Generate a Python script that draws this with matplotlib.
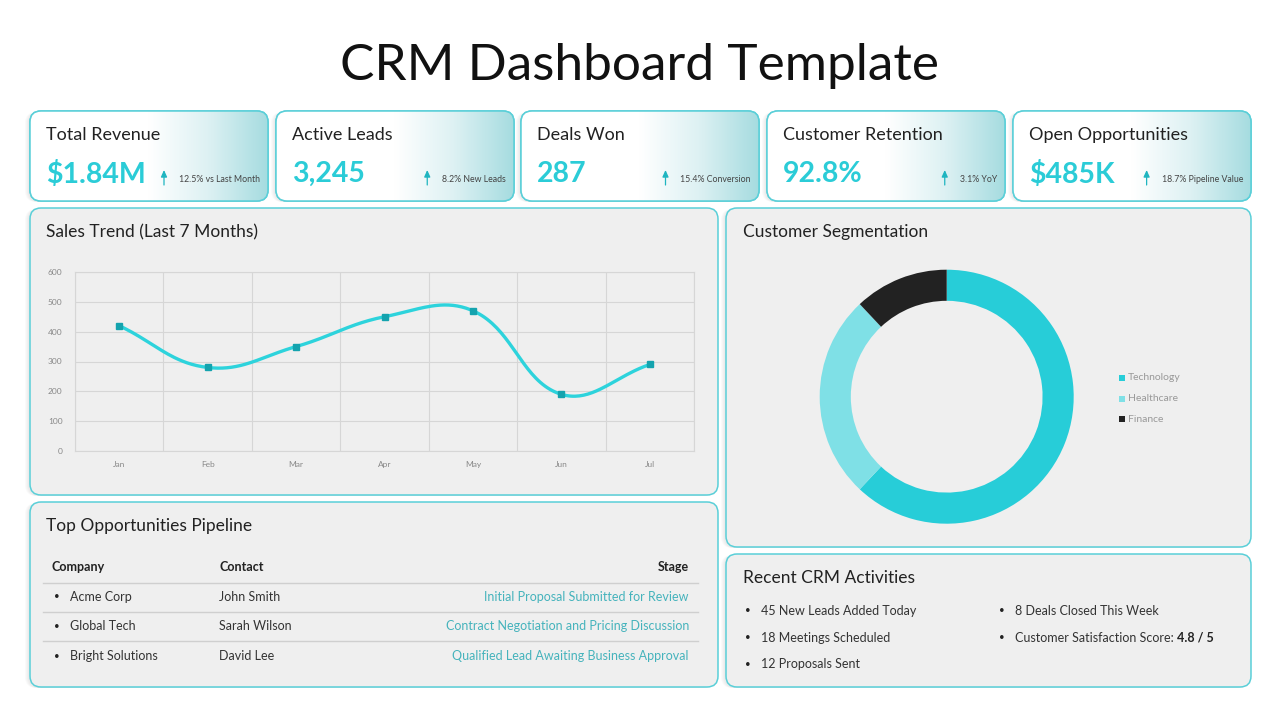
import numpy as np
import matplotlib
matplotlib.use('Agg')
import matplotlib.pyplot as plt
from matplotlib.patches import FancyBboxPatch, Rectangle
from matplotlib.colors import LinearSegmentedColormap

plt.rcParams['font.family'] = ['Lato', 'DejaVu Sans']

# ---- data ----
kpi_titles = ['Total Revenue', 'Active Leads', 'Deals Won', 'Customer Retention', 'Open Opportunities']
kpi_values = ['$1.84M', '3,245', '287', '92.8%', '$485K']
kpi_notes = ['12.5% vs Last Month', '8.2% New Leads', '15.4% Conversion', '3.1% YoY', '18.7% Pipeline Value']

months = ['Jan', 'Feb', 'Mar', 'Apr', 'May', 'Jun', 'Jul']
sales = [420, 280, 350, 450, 470, 190, 290]

segments = ['Technology', 'Healthcare', 'Finance']
segment_share = [62, 26, 12]
segment_colors = ['#27CDD8', '#7FE0E6', '#222222']

table_cols = ['Company', 'Contact', 'Stage']
companies = ['Acme Corp', 'Global Tech', 'Bright Solutions']
contacts = ['John Smith', 'Sarah Wilson', 'David Lee']
stages = ['Initial Proposal Submitted for Review',
          'Contract Negotiation and Pricing Discussion',
          'Qualified Lead Awaiting Business Approval']

activities_left = ['45 New Leads Added Today', '18 Meetings Scheduled', '12 Proposals Sent']
activities_right = ['8 Deals Closed This Week', 'Customer Satisfaction Score: ']
satisfaction = '4.8 / 5'

TEAL = '#2BCCD7'
BORDER = '#5ACFD8'
PANEL = '#EFEFEF'
DARK = '#222222'
W, H = 1280, 720

# plot box of the sales chart, in figure pixels
PX0, PX1, PY0, PY1 = 75, 694, 272, 451


def smooth_line(xv, yv, tension=0.4, n=40):
    # cubic bezier through the points, control points like a cardinal spline
    # (distances measured in screen pixels so the look follows the chart box)
    sx = (PX1 - PX0) / len(xv)
    sy = (PY1 - PY0) / 600
    p = np.column_stack([np.asarray(xv, float) * sx, np.asarray(yv, float) * sy])
    k = len(p)
    c_prev = p.copy()
    c_next = p.copy()
    for i in range(k):
        prv = p[max(i - 1, 0)]
        nxt = p[min(i + 1, k - 1)]
        d01 = np.hypot(*(p[i] - prv))
        d12 = np.hypot(*(nxt - p[i]))
        tot = d01 + d12
        s01 = d01 / tot if tot else 0
        s12 = d12 / tot if tot else 0
        c_prev[i] = p[i] - tension * s01 * (nxt - prv)
        c_next[i] = p[i] + tension * s12 * (nxt - prv)
    t = np.linspace(0, 1, n)[:, None]
    segs = []
    for i in range(k - 1):
        b = ((1 - t) ** 3 * p[i] + 3 * (1 - t) ** 2 * t * c_next[i]
             + 3 * (1 - t) * t ** 2 * c_prev[i + 1] + t ** 3 * p[i + 1])
        segs.append(b)
    out = np.vstack(segs)
    return out[:, 0] / sx, out[:, 1] / sy


fig = plt.figure(figsize=(12.8, 7.2), dpi=100)
fig.patch.set_facecolor('white')
ax = fig.add_axes([0, 0, 1, 1])
ax.set_axis_off()


def panel(x0, y0, x1, y1, face=PANEL, shadow=True):
    if shadow:
        for k in range(4):
            s = FancyBboxPatch((x0 - 2 - k, y0 + 1), x1 - x0, y1 - y0,
                               boxstyle='round,pad=0,rounding_size=11',
                               fc='#000000', ec='none', alpha=0.018, zorder=1)
            ax.add_patch(s)
    p = FancyBboxPatch((x0, y0), x1 - x0, y1 - y0,
                       boxstyle='round,pad=0,rounding_size=11',
                       fc=face, ec=BORDER, lw=1.1, zorder=2)
    ax.add_patch(p)
    return p


ax.text(640, 66, 'CRM Dashboard Template', ha='center', va='center',
        fontsize=37, color='#111111')

# KPI cards
card_x = [30, 276, 521, 767, 1013]
card_w = 238
grad_cmap = LinearSegmentedColormap.from_list(
    'g', [(0, '#FFFFFF'), (0.5, '#FFFFFF'), (0.75, '#DDF1F3'), (1, '#A6DCE0')])
grad = np.linspace(0, 1, 256).reshape(1, -1)
note_texts = []
for i, x0 in enumerate(card_x):
    p = panel(x0, 111, x0 + card_w, 201, face='white')
    im = ax.imshow(grad, cmap=grad_cmap, extent=[x0, x0 + card_w, 201, 111],
                   aspect='auto', zorder=2.5)
    im.set_clip_path(p)
    p2 = FancyBboxPatch((x0, 111), card_w, 90, boxstyle='round,pad=0,rounding_size=11',
                        fc='none', ec=BORDER, lw=1.1, zorder=3)
    ax.add_patch(p2)
    ax.text(x0 + 16, 135, kpi_titles[i], fontsize=13, color=DARK, va='center', zorder=4)
    ax.text(x0 + 16, 174, kpi_values[i], fontsize=20.5, color=TEAL, fontweight='bold',
            va='center', zorder=4)
    note_texts.append(ax.text(x0 + card_w - 8, 179, kpi_notes[i], fontsize=6.3,
                              color='#444444', ha='right', va='center', zorder=4))

# main panels
panel(30, 208, 718, 495)
panel(726, 208, 1251, 547)
panel(30, 502, 718, 687)
panel(726, 554, 1251, 687)

ax.text(46, 232, 'Sales Trend (Last 7 Months)', fontsize=12.5, color=DARK, va='center', zorder=4)
ax.text(743, 232, 'Customer Segmentation', fontsize=12.5, color=DARK, va='center', zorder=4)
ax.text(46, 526, 'Top Opportunities Pipeline', fontsize=12.5, color=DARK, va='center', zorder=4)
ax.text(743, 578, 'Recent CRM Activities', fontsize=12.5, color=DARK, va='center', zorder=4)

# table
ax.text(52, 567, table_cols[0], fontsize=9, fontweight='bold', color=DARK, va='center', zorder=4)
ax.text(219, 567, table_cols[1], fontsize=9, fontweight='bold', color=DARK, va='center', zorder=4)
ax.text(689, 567, table_cols[2], fontsize=9, fontweight='bold', color=DARK, va='center',
        ha='right', zorder=4)
for yl in [583, 612, 641]:
    ax.plot([43, 698], [yl, yl], color='#CFCFCF', lw=1, zorder=4)
for r in range(len(companies)):
    yy = 597 + r * 29.5
    ax.text(54, yy, '•', fontsize=7, color=DARK, va='center', zorder=4)
    ax.text(70, yy, companies[r], fontsize=9, color='#333333', va='center', zorder=4)
    ax.text(219, yy, contacts[r], fontsize=9, color='#333333', va='center', zorder=4)
    ax.text(689, yy, stages[r], fontsize=9, color='#45B3BC', va='center', ha='right', zorder=4)

# activities
for r, t in enumerate(activities_left):
    yy = 611 + r * 26.5
    ax.text(745, yy, '•', fontsize=7, color=DARK, va='center', zorder=4)
    ax.text(761, yy, t, fontsize=9, color='#333333', va='center', zorder=4)
for r, t in enumerate(activities_right):
    yy = 611 + r * 26.5
    ax.text(999, yy, '•', fontsize=7, color=DARK, va='center', zorder=4)
    last = ax.text(1015, yy, t, fontsize=9, color='#333333', va='center', zorder=4)

ax.set_xlim(0, W)
ax.set_ylim(H, 0)

fig.canvas.draw()
rend = fig.canvas.get_renderer()
inv = ax.transData.inverted()
bb = last.get_window_extent(rend)
x_end = inv.transform((bb.x1, bb.y0))[0]
ax.text(x_end, 611 + 26.5, satisfaction, fontsize=9, color=DARK, fontweight='bold',
        va='center', zorder=4)

# small up arrows in front of the KPI notes
for t in note_texts:
    nb = t.get_window_extent(rend)
    xa = inv.transform((nb.x0, nb.y0))[0] - 15
    ax.annotate('', xy=(xa, 170), xytext=(xa, 185),
                arrowprops=dict(arrowstyle='-|>,head_width=0.18,head_length=0.4',
                                color='#1FB5C0', lw=0.9, shrinkA=0, shrinkB=0,
                                mutation_scale=10), zorder=4)

# sales line chart
lax = fig.add_axes([PX0 / W, 1 - PY1 / H, (PX1 - PX0) / W, (PY1 - PY0) / H])
lax.set_facecolor('none')
xi = np.arange(len(months))
xs, ys = smooth_line(xi, sales)
lax.plot(xs, ys, color='#2DD3DC', lw=2.4, zorder=3)
lax.plot(xi, sales, 's', color='#14A3AE', ms=4, zorder=4)
lax.set_xlim(-0.5, len(months) - 0.5)
lax.set_ylim(0, 600)
lax.set_yticks(range(0, 601, 100))
lax.set_xticks(xi)
lax.set_xticklabels(months)
lax.set_xticks(np.arange(-0.5, len(months), 1), minor=True)
lax.grid(True, which='minor', axis='x', color='#D6D6D6', lw=0.8)
lax.grid(True, which='major', axis='y', color='#D6D6D6', lw=0.8)
lax.tick_params(which='both', length=0, labelsize=6, labelcolor='#888888')
lax.tick_params(axis='x', pad=7)
lax.tick_params(axis='y', pad=9)
for s in lax.spines.values():
    s.set_color('#D6D6D6')
    s.set_linewidth(0.8)

# donut
cx, cy, rad = 946.7, 396.7, 127
dax = fig.add_axes([(cx - rad) / W, 1 - (cy + rad) / H, 2 * rad / W, 2 * rad / H])
dax.pie(segment_share, colors=segment_colors, startangle=90, counterclock=False,
        radius=1, wedgeprops=dict(width=0.245, edgecolor='none'))
dax.set_xlim(-1, 1)
dax.set_ylim(-1, 1)
dax.set_axis_off()

for i, name in enumerate(segments):
    yy = 378 + i * 20.5
    ax.add_patch(Rectangle((1119, yy - 3), 6, 6, fc=segment_colors[i], ec='none', zorder=4))
    ax.text(1128, yy, name, fontsize=7.5, color='#999999', va='center', zorder=4)

fig.savefig('out.png', dpi=100, facecolor='white')
